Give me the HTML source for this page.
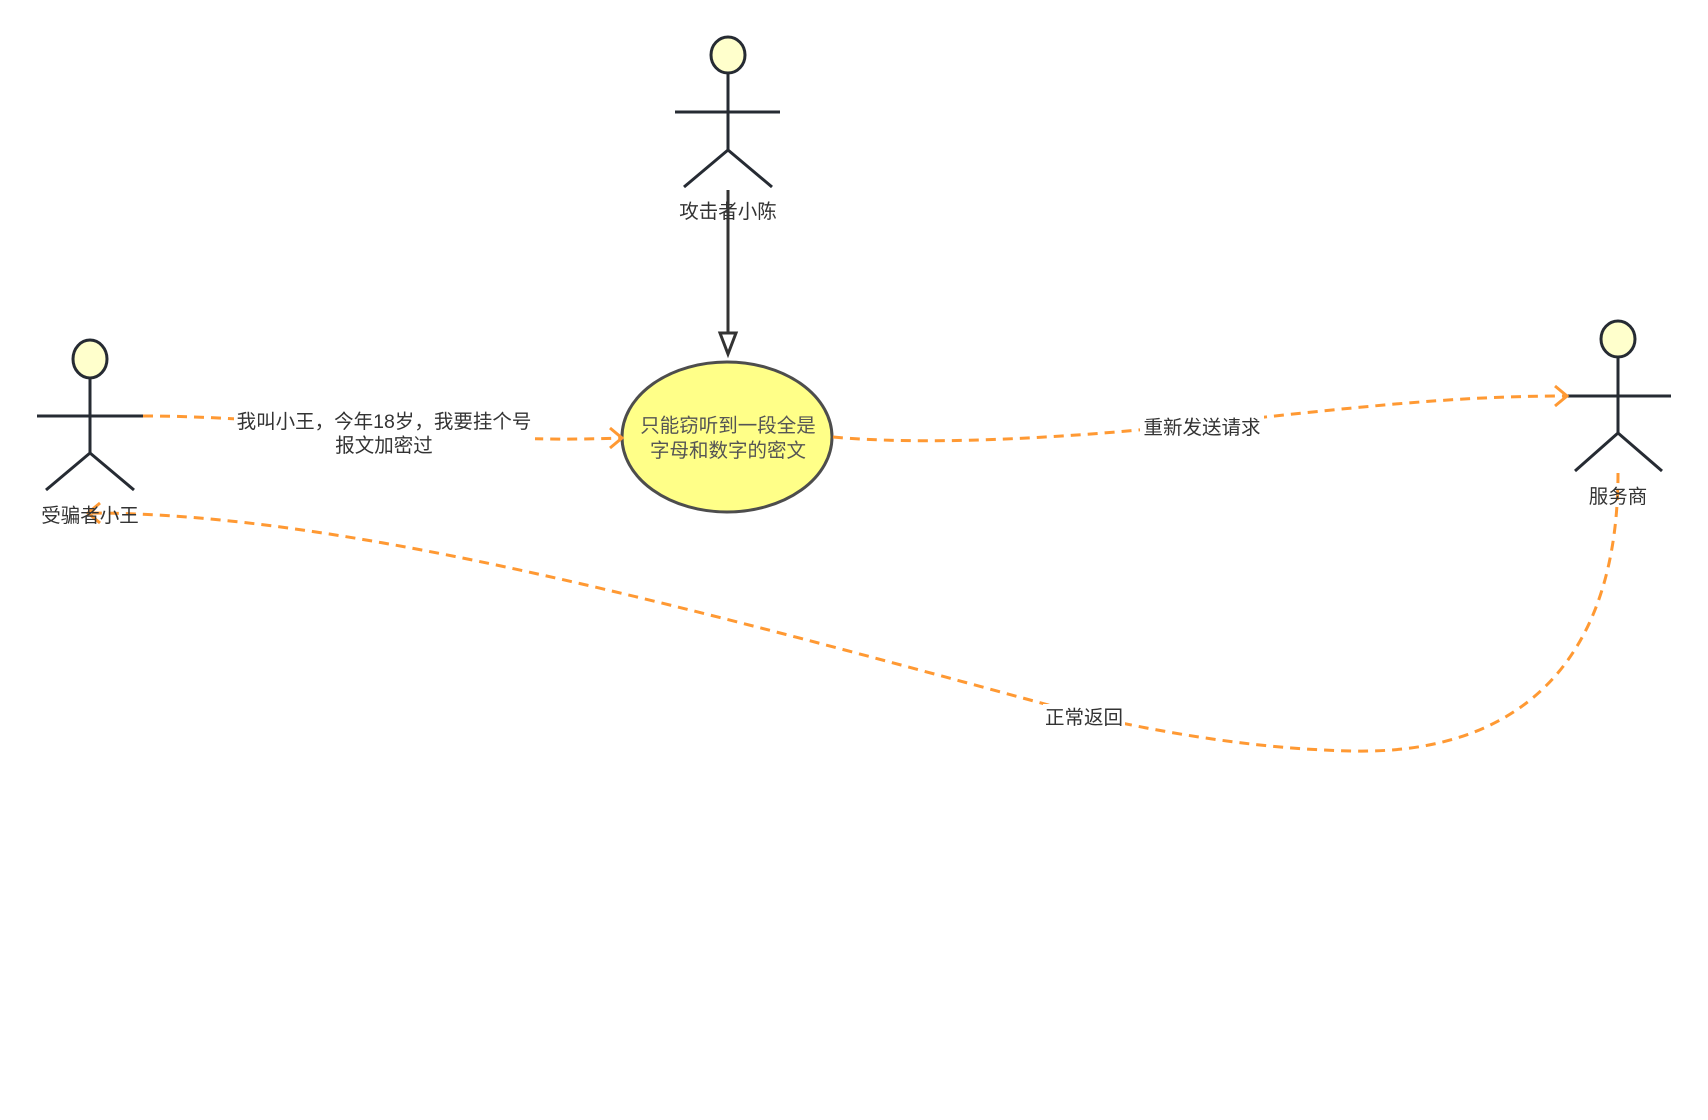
<!DOCTYPE html>
<html><head><meta charset="utf-8"><style>
html,body{margin:0;padding:0;background:#fff;}
svg{display:block;}
text{font-family:"Liberation Sans","Noto Sans CJK SC",sans-serif;}
</style></head><body>
<svg width="1708" height="1120" viewBox="0 0 1708 1120" xmlns="http://www.w3.org/2000/svg">
<g stroke="#262b33" stroke-width="3" fill="none">
  <ellipse cx="728" cy="55" rx="17" ry="18" fill="#ffffcc"/>
  <line x1="728" y1="73" x2="728" y2="150"/>
  <line x1="675" y1="112" x2="780" y2="112"/>
  <line x1="728" y1="150" x2="684" y2="187"/>
  <line x1="728" y1="150" x2="772" y2="187"/>
  <ellipse cx="90" cy="359" rx="17" ry="19" fill="#ffffcc"/>
  <line x1="90" y1="378" x2="90" y2="453"/>
  <line x1="37" y1="416" x2="143" y2="416"/>
  <line x1="90" y1="453" x2="46" y2="490"/>
  <line x1="90" y1="453" x2="134" y2="490"/>
  <ellipse cx="1618" cy="339" rx="17" ry="18" fill="#ffffcc"/>
  <line x1="1618" y1="357" x2="1618" y2="433"/>
  <line x1="1566" y1="396" x2="1671" y2="396"/>
  <line x1="1618" y1="433" x2="1575" y2="471"/>
  <line x1="1618" y1="433" x2="1662" y2="471"/>
</g>
<line x1="728" y1="190" x2="728" y2="333" stroke="#333" stroke-width="3"/>
<polygon points="720,333 736,333 728,354" fill="#fff" stroke="#333" stroke-width="3"/>
<ellipse cx="727" cy="437" rx="105" ry="75" fill="#ffff88" stroke="#4d4d4d" stroke-width="3"/>
<text x="728" y="432" font-size="19.5" fill="#555" text-anchor="middle">只能窃听到一段全是</text>
<text x="728" y="457" font-size="19.5" fill="#555" text-anchor="middle">字母和数字的密文</text>
<g stroke="#ff9933" stroke-width="3" fill="none" stroke-dasharray="10,7">
  <path d="M143,416 C300,416 450,445 620,438"/>
  <path d="M833,437 C920,445 1050,440 1200,424 C1350,408 1450,396 1565,396"/>
  <path d="M1618,473 C1618,650 1530,755 1352,751 C1250,749 1150,730 1085,715 C700,610 350,513 90,513"/>
</g>
<g stroke="#ff9933" stroke-width="3" fill="none">
  <polyline points="610,428 622,438 610,448"/>
  <polyline points="1555,386 1567,396 1555,406"/>
  <polyline points="100,503 88,513 100,523"/>
</g>
<rect x="234" y="409" width="301" height="45" fill="#fff"/>
<text x="384" y="428" font-size="19.5" fill="#333" text-anchor="middle">我叫小王，今年18岁，我要挂个号</text>
<text x="384" y="452" font-size="19.5" fill="#333" text-anchor="middle">报文加密过</text>
<rect x="1140" y="414" width="124" height="25" fill="#fff"/>
<text x="1202" y="434" font-size="19.5" fill="#333" text-anchor="middle">重新发送请求</text>
<rect x="1043" y="704" width="82" height="25" fill="#fff"/>
<text x="1084" y="724" font-size="19.5" fill="#333" text-anchor="middle">正常返回</text>
<text x="728" y="218" font-size="19.5" fill="#333" text-anchor="middle">攻击者小陈</text>
<text x="90" y="522" font-size="19.5" fill="#333" text-anchor="middle">受骗者小王</text>
<text x="1618" y="503" font-size="19.5" fill="#333" text-anchor="middle">服务商</text>
</svg>
</body></html>
